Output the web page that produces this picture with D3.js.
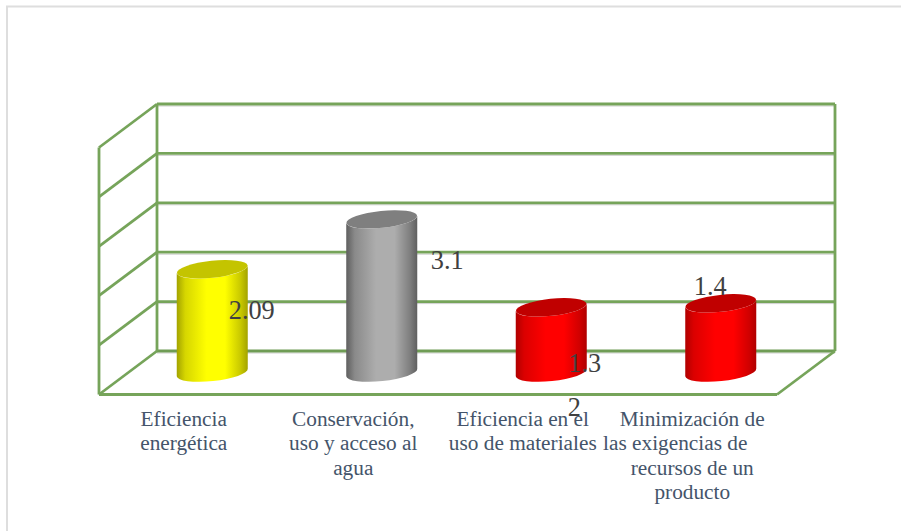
<!DOCTYPE html>
<html><head><meta charset="utf-8">
<script src="https://cdn.jsdelivr.net/npm/d3@7"></script>
<style>html,body{margin:0;padding:0;background:#fff}svg{display:block}text{font-family:"Liberation Serif",serif}</style>
</head><body><div id="c"></div>
<script>
const categories = ["Eficiencia energética","Conservación, uso y acceso al agua","Eficiencia en el uso de materiales","Minimización de las exigencias de recursos de un producto"];
const values = [2.09,3.1,1.32,1.4];
const valueLabels = [["2.09"],["3.1"],["1.3","2"],["1.4"]];
const categoryLines = [["Eficiencia","energética"],["Conservación,","uso y acceso al","agua"],["Eficiencia en el","uso de materiales"],["Minimización de","las exigencias de","recursos de un","producto"]];
const barColors = [["#a3a300","#ffff00","#c4c400"],["#5f5f5f","#adadad","#7f7f7f"],["#b00000","#ff0000","#c00000"],["#b00000","#ff0000","#c00000"]];
const ticks = [0,1,2,3,4,5];

const W=901,H=531, depthX=58, depthY=43.5, green="#76a45a";
const svg=d3.select("#c").append("svg").attr("width",W).attr("height",H);
const y=d3.scaleLinear().domain([0,5]).range([351,104]);
const x=d3.scaleBand().domain(categories).range([127.5,805.5]);
const xBack=[157,835];

// outer frame: top and left only
svg.append("path").attr("d",`M7,${H}V6.5H${W}`).attr("fill","none").attr("stroke","#dedede").attr("stroke-width",2);

// faint shadow under the back-wall gridlines
const shadow=svg.append("g").attr("stroke","#d0d0d0").attr("stroke-width",1);
ticks.forEach(t=>shadow.append("line").attr("x1",xBack[0]).attr("x2",xBack[1]).attr("y1",y(t)+2).attr("y2",y(t)+2));

const grid=svg.append("g").attr("fill","none").attr("stroke",green).attr("stroke-width",2.8);
ticks.forEach(t=>{
  grid.append("line").attr("x1",xBack[0]).attr("x2",xBack[1]).attr("y1",y(t)).attr("y2",y(t)).attr("stroke",t===0?"#6f9c55":green);
  grid.append("line").attr("x1",xBack[0]-depthX).attr("y1",y(t)+depthY).attr("x2",xBack[0]).attr("y2",y(t));
});
grid.append("line").attr("x1",xBack[0]).attr("x2",xBack[0]).attr("y1",y(5)).attr("y2",y(0));
grid.append("line").attr("x1",xBack[1]).attr("x2",xBack[1]).attr("y1",y(5)).attr("y2",y(0));
grid.append("line").attr("x1",xBack[0]-depthX).attr("x2",xBack[0]-depthX).attr("y1",y(5)+depthY).attr("y2",y(0)+depthY);
grid.append("line").attr("x1",xBack[0]-depthX).attr("x2",xBack[1]-depthX).attr("y1",y(0)+depthY).attr("y2",y(0)+depthY);
grid.append("line").attr("x1",xBack[1]-depthX).attr("y1",y(0)+depthY).attr("x2",xBack[1]).attr("y2",y(0));

// cylinders
const defs=svg.append("defs");
barColors.forEach((c,i)=>{
  const g=defs.append("linearGradient").attr("id","g"+i);
  [[0,c[0]],[.12,d3.interpolateRgb(c[0],c[1])(.55)],[.42,c[1]],[.68,c[1]],[.9,d3.interpolateRgb(c[0],c[1])(.4)],[1,c[0]]]
    .forEach(s=>g.append("stop").attr("offset",s[0]).attr("stop-color",s[1]));
});
const rx=35.5, ry=8.5, tilt=-6, lift=Math.sin(tilt*Math.PI/180)*rx, baseOffset=21.5;
const bars=svg.append("g").selectAll("g").data(categories).join("g");
bars.append("path").attr("fill",(d,i)=>`url(#g${i})`).attr("d",(d,i)=>{
  const cx=x(d)+x.bandwidth()/2, yt=y(values[i])+baseOffset, yb=y(0)+baseOffset;
  return `M${cx-rx},${yt-lift}L${cx-rx},${yb-lift}A${rx},${ry} ${tilt} 0 0 ${cx+rx},${yb+lift}L${cx+rx},${yt+lift}A${rx},${ry} ${tilt} 0 1 ${cx-rx},${yt-lift}Z`;
});
bars.append("ellipse").attr("fill",(d,i)=>barColors[i][2]).attr("rx",rx).attr("ry",ry)
  .attr("transform",(d,i)=>`translate(${x(d)+x.bandwidth()/2},${y(values[i])+baseOffset}) rotate(${tilt})`);

// category labels
const lineH=24.4;
const lineShift=[[0,0],[0,0,0],[0,0],[0,-17,0,0]];
categoryLines.forEach((lines,i)=>{
  const cx=x(categories[i])+x.bandwidth()/2-28.5;
  const t=svg.append("text").attr("fill","#44546a").attr("font-size",21.3).attr("text-anchor","middle");
  lines.forEach((l,j)=>t.append("tspan").attr("x",cx+lineShift[i][j]).attr("y",426+j*lineH).text(l));
});

// value labels
const labelOffset=[[39.5,50],[65.5,50],[33.5,64.5],[-10.5,-8]];
valueLabels.forEach((lines,i)=>{
  const cx=x(categories[i])+x.bandwidth()/2, yt=y(values[i])+baseOffset;
  lines.forEach((l,j)=>svg.append("text").attr("fill","#404040").attr("font-size",26.3).attr("text-anchor","middle")
    .attr("x",cx+labelOffset[i][0]-(j?10.5:0)).attr("y",yt+labelOffset[i][1]+j*44).text(l));
});
</script></body></html>
